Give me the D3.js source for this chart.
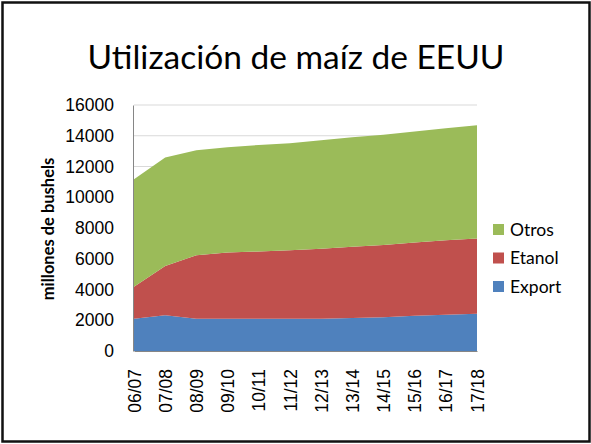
<!DOCTYPE html>
<html>
<head>
<meta charset="utf-8">
<script src="https://cdn.jsdelivr.net/npm/d3@7"></script>
<style>
body { margin: 0; background: #fff; }
svg { display: block; }
</style>
</head>
<body>
<div id="chart"></div>
<script>
var w = 591,
	h = 444;

// campañas
var years = ['06/07', '07/08', '08/09', '09/10', '10/11', '11/12', '12/13', '13/14', '14/15', '15/16', '16/17', '17/18'];
// millones de bushels
var exportVals = [2100, 2330, 2100, 2090, 2090, 2090, 2100, 2150, 2200, 2300, 2350, 2430];
var etanolVals = [2080, 3200, 4120, 4310, 4380, 4460, 4550, 4630, 4700, 4750, 4850, 4890];
var otrosVals = [6990, 7050, 6840, 6850, 6930, 6970, 7050, 7120, 7160, 7230, 7280, 7360];
var yTicks = [0, 2000, 4000, 6000, 8000, 10000, 12000, 14000, 16000];

var series = [
	{ name: 'Export', values: exportVals, color: '#4F81BD' },
	{ name: 'Etanol', values: etanolVals, color: '#C0504D' },
	{ name: 'Otros', values: otrosVals, color: '#9BBB59' }
];

var rows = years.map(function(y, i) {
	return { year: y, Export: exportVals[i], Etanol: etanolVals[i], Otros: otrosVals[i] };
});

var svg = d3.select('#chart').append('svg')
	.attr('width', w)
	.attr('height', h);

var x = d3.scalePoint().domain(years).range([134, 477]);
var y = d3.scaleLinear().domain([0, 16000]).range([351, 105]);

// gridlines
svg.append('g').selectAll('line')
	.data(yTicks.slice(1))
	.enter().append('line')
	.attr('x1', 134).attr('x2', 477)
	.attr('y1', function(d) { return y(d); })
	.attr('y2', function(d) { return y(d); })
	.attr('stroke', '#D9D9D9')
	.attr('stroke-width', 1);

var stack = d3.stack().keys(series.map(function(s) { return s.name; }));
var layers = stack(rows);

var area = d3.area()
	.x(function(d) { return x(d.data.year); })
	.y0(function(d) { return y(d[0]); })
	.y1(function(d) { return y(d[1]); });

svg.append('g').selectAll('path')
	.data(layers)
	.enter().append('path')
	.attr('d', area)
	.attr('fill', function(d, i) { return series[i].color; });

// axes
var yAxis = d3.axisLeft(y).tickValues(yTicks).tickSize(0).tickPadding(19).tickFormat(d3.format('d'));
var gy = svg.append('g').attr('transform', 'translate(133,0)').call(yAxis);
gy.select('.domain').attr('stroke', '#868686');
gy.selectAll('text')
	.style('font-family', '"Liberation Sans", Arial, sans-serif')
	.style('font-size', '17.5px')
	.attr('fill', '#000');

var xAxis = d3.axisBottom(x).tickSize(0).tickPadding(0);
var gx = svg.append('g').attr('transform', 'translate(0,351)').call(xAxis);
gx.select('.domain').attr('stroke', '#868686');
gx.selectAll('text')
	.style('font-family', '"Liberation Sans", Arial, sans-serif')
	.style('font-size', '17.5px')
	.attr('fill', '#000')
	.attr('text-anchor', 'end')
	.attr('dy', '0.35em')
	.attr('transform', 'translate(0,18) rotate(-90)');

// title
svg.append('text')
	.attr('x', 296)
	.attr('y', 69)
	.attr('text-anchor', 'middle')
	.style('font-family', 'Lato, "Open Sans", sans-serif')
	.style('font-size', '33.5px')
	.text('Utilización de maíz de EEUU');

// y label
svg.append('text')
	.attr('transform', 'translate(54,229) rotate(-90)')
	.attr('text-anchor', 'middle')
	.style('font-family', 'Lato, "Open Sans", sans-serif')
	.style('font-weight', 'bold')
	.style('font-size', '16.5px')
	.text('millones de bushels');

// legend
var legendItems = series.slice().reverse();
var lg = svg.append('g').selectAll('g')
	.data(legendItems)
	.enter().append('g')
	.attr('transform', function(d, i) { return 'translate(493,' + (224 + i * 28.5) + ')'; });
lg.append('rect')
	.attr('width', 11).attr('height', 11)
	.attr('fill', function(d) { return d.color; });
lg.append('text')
	.attr('x', 17).attr('y', 5.5)
	.attr('dy', '0.36em')
	.style('font-family', 'Lato, "Open Sans", sans-serif')
	.style('font-size', '17.5px')
	.text(function(d) { return d.name; });

// frame
svg.append('rect')
	.attr('x', 2.5).attr('y', 2.5)
	.attr('width', 587).attr('height', 439)
	.attr('fill', 'none')
	.attr('stroke', '#111')
	.attr('stroke-width', 2.5);
</script>
</body>
</html>
